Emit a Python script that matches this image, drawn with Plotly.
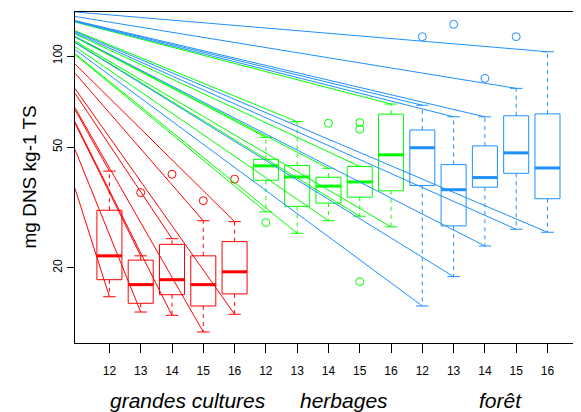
import math
import plotly.graph_objects as go

# ---- data ----
years = ["12", "13", "14", "15", "16"]
groups = ["grandes cultures", "herbages", "forêt"]
colors = ["#FF0000", "#00FF00", "#1E90FF"]

red_lo = [16.05, 14.29, 13.94, 12.28, 14.05]
red_q1 = [18.27, 15.27, 16.3, 14.96, 16.4]
red_med = [21.9, 17.6, 18.27, 17.6, 19.4]
red_q3 = [30.96, 21.2, 23.9, 21.9, 24.4]
red_hi = [41.7, 21.9, 24.95, 28.6, 28.4]
red_out = [[], [35.4], [40.7], [33.3], [39.2]]

green_lo = [30.6, 26.0, 28.6, 29.6, 27.3]
green_q1 = [38.9, 31.9, 32.7, 34.2, 35.9]
green_med = [43.4, 39.9, 37.2, 38.4, 47.2]
green_q3 = [45.6, 43.5, 39.8, 43.2, 64.3]
green_hi = [53.9, 60.7, 42.6, 43.2, 69.4]
green_out = [[28.2], [], [60.0], [60.3, 57.3, 18.0], []]

blue_lo = [14.96, 18.7, 23.6, 26.8, 26.2]
blue_q1 = [37.4, 27.5, 36.9, 41.0, 33.8]
blue_med = [49.8, 36.2, 39.7, 47.9, 42.7]
blue_q3 = [57.0, 43.8, 50.5, 63.5, 64.4]
blue_hi = [68.8, 63.0, 63.0, 78.2, 103.3]
blue_out = [[115.8], [127.2], [84.4], [115.8], []]

# common source point of the straight rays (outside the plotting region)
ray_origin_x = -1.94
ray_origin_y = 145.0

y_title = "mg DNS kg-1 TS"
y_ticks = [20, 50, 100]

stats = [
    (red_lo, red_q1, red_med, red_q3, red_hi, red_out),
    (green_lo, green_q1, green_med, green_q3, green_hi, green_out),
    (blue_lo, blue_q1, blue_med, blue_q3, blue_hi, blue_out),
]

FONT = "Liberation Sans, Arial, Helvetica, sans-serif"
BOXW = 0.4
CAPW = 0.2
X_MIN = -0.1
X_MAX = -0.1 + 506 / 31.29


def ray_start(p, v):
    """Point where the ray from the common origin to (p, v) crosses the left frame."""
    t = (X_MIN - ray_origin_x) / (p - ray_origin_x)
    ly = math.log10(ray_origin_y) + t * (math.log10(v) - math.log10(ray_origin_y))
    return X_MIN, 10 ** ly


fig = go.Figure()

for g, (lo, q1, med, q3, hi, out) in enumerate(stats):
    col = colors[g]
    pos = [g * 5 + i + 1 for i in range(5)]
    bx, by, mx, my, wx, wy, cx, cy, rx, ry, ox, oy = ([] for _ in range(12))
    for i, p in enumerate(pos):
        bx += [p - BOXW, p + BOXW, p + BOXW, p - BOXW, p - BOXW, None]
        by += [q1[i], q1[i], q3[i], q3[i], q1[i], None]
        mx += [p - BOXW, p + BOXW, None]
        my += [med[i], med[i], None]
        wx += [p, p, None, p, p, None]
        wy += [q3[i], hi[i], None, q1[i], lo[i], None]
        cx += [p - CAPW, p + CAPW, None, p - CAPW, p + CAPW, None]
        cy += [hi[i], hi[i], None, lo[i], lo[i], None]
        for v in (hi[i], lo[i]):
            sx, sy = ray_start(p, v)
            rx += [sx, p, None]
            ry += [sy, v, None]
        for v in out[i]:
            ox.append(p)
            oy.append(v)
    fig.add_trace(go.Scatter(x=rx, y=ry, mode="lines", line=dict(color=col, width=1),
                             hoverinfo="skip", showlegend=False))
    fig.add_trace(go.Scatter(x=wx, y=wy, mode="lines",
                             line=dict(color=col, width=1, dash="4px,4px"),
                             hoverinfo="skip", showlegend=False))
    fig.add_trace(go.Scatter(x=cx, y=cy, mode="lines", line=dict(color=col, width=1),
                             hoverinfo="skip", showlegend=False))
    fig.add_trace(go.Scatter(x=bx, y=by, mode="lines", line=dict(color=col, width=1),
                             hoverinfo="skip", showlegend=False))
    fig.add_trace(go.Scatter(x=mx, y=my, mode="lines", line=dict(color=col, width=3),
                             hoverinfo="skip", showlegend=False))
    fig.add_trace(go.Scatter(x=ox, y=oy, mode="markers",
                             marker=dict(symbol="circle-open", size=8, color=col,
                                         line=dict(width=1, color=col)),
                             cliponaxis=False, hoverinfo="skip", showlegend=False))

tickvals = list(range(1, 16))
ticktext = years * 3

annotations = []
for g, name in enumerate(groups):
    annotations.append(dict(x=g * 5 + 3.5, y=0, xref="x", yref="paper",
                            text="<i>" + name + "</i>",
                            showarrow=False, yanchor="middle", xanchor="center",
                            yshift=-57, font=dict(family=FONT, size=21, color="black")))
annotations.append(dict(x=0, y=0.5, xref="paper", yref="paper", text=y_title,
                        showarrow=False, textangle=-90, xanchor="center",
                        yanchor="middle", xshift=-46,
                        font=dict(family=FONT, size=19, color="black")))

# the page body adds an 8px offset, so the figure is 8px smaller and shifted
fig.update_layout(
    width=573, height=404,
    margin=dict(l=67, r=0, t=4, b=69, autoexpand=False),
    paper_bgcolor="white", plot_bgcolor="white",
    font=dict(family=FONT, color="black"),
    showlegend=False,
    annotations=annotations,
    xaxis=dict(range=[X_MIN, X_MAX], showgrid=False, zeroline=False,
               showline=True, mirror=True, linecolor="black", linewidth=1,
               ticks="outside", ticklen=9, tickcolor="black", tickwidth=1,
               tickvals=tickvals, ticktext=ticktext, tickangle=0,
               tickfont=dict(family=FONT, size=12, color="black"),
               ticklabelstandoff=8),
    yaxis=dict(type="log", range=[1.0528, 2.1452], showgrid=False, zeroline=False,
               showline=True, mirror=False, linecolor="black", linewidth=1,
               ticks="outside", ticklen=7, tickcolor="black", tickwidth=1,
               tickvals=y_ticks, ticktext=[str(v) for v in y_ticks], tickangle=-90,
               tickfont=dict(family=FONT, size=12, color="black")),
)

fig.write_html("out.html")
